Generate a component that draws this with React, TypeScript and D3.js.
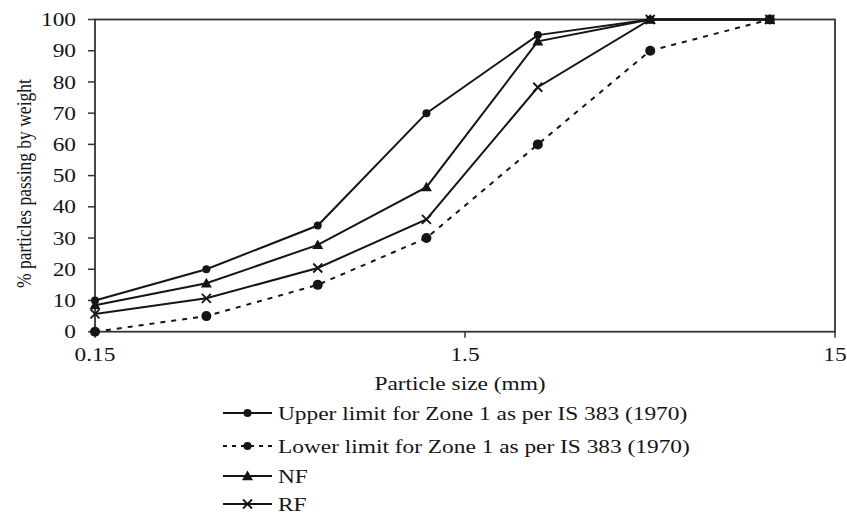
import React from "react";
import * as d3 from "d3";

// Sieve sizes (mm) and cumulative % passing for each gradation curve
const sieveSizes = [0.15, 0.3, 0.6, 1.18, 2.36, 4.75, 10];
const upperLimit = [10, 20, 34, 70, 95, 100, 100];
const lowerLimit = [0, 5, 15, 30, 60, 90, 100];
const nfPassing = [8.5, 15.5, 27.8, 46.3, 93, 100, 100];
const rfPassing = [5.7, 10.7, 20.4, 36, 78.3, 100, 100];

const xTickValues = [0.15, 1.5, 15];
const xTickLabels = ["0.15", "1.5", "15"];
const yTickValues = [0, 10, 20, 30, 40, 50, 60, 70, 80, 90, 100];

const seriesNames = [
  "Upper limit for Zone 1 as per IS 383 (1970)",
  "Lower limit for Zone 1 as per IS 383 (1970)",
  "NF",
  "RF",
];

type Marker = "circle" | "bigcircle" | "triangle" | "cross";

const W = 847;
const H = 516;
const M = { left: 95, right: 835, top: 19.5, bottom: 331.7 };
const INK = "#151515";
const FONT = "'Liberation Serif', 'Times New Roman', serif";
const FS = 19;
const SX = 1.23; // horizontal text stretch

function Label({
  x,
  y,
  anchor = "start",
  children,
}: {
  x: number;
  y: number;
  anchor?: "start" | "middle" | "end";
  children: React.ReactNode;
}) {
  return (
    <text
      transform={`translate(${x},${y}) scale(${SX},1)`}
      dy="0.35em"
      textAnchor={anchor}
      fontFamily={FONT}
      fontSize={FS}
      fill={INK}
    >
      {children}
    </text>
  );
}

function MarkerShape({ type, x, y }: { type: Marker; x: number; y: number }) {
  if (type === "circle") return <circle cx={x} cy={y} r={4} fill={INK} />;
  if (type === "bigcircle") return <circle cx={x} cy={y} r={5} fill={INK} />;
  if (type === "triangle") {
    const s = 5.5;
    return (
      <path
        d={`M${x},${y - s} L${x + s},${y + s * 0.75} L${x - s},${y + s * 0.75} Z`}
        fill={INK}
      />
    );
  }
  const s = 4.5;
  return (
    <path
      d={`M${x - s},${y - s} L${x + s},${y + s} M${x - s},${y + s} L${x + s},${y - s}`}
      stroke={INK}
      strokeWidth={1.8}
    />
  );
}

export default function App() {
  const x = d3.scaleLog().domain([0.15, 15]).range([M.left, M.right]);
  const y = d3.scaleLinear().domain([0, 100]).range([M.bottom, M.top]);

  const series: { name: string; values: number[]; marker: Marker; dash?: string }[] = [
    { name: seriesNames[0], values: upperLimit, marker: "circle" },
    { name: seriesNames[1], values: lowerLimit, marker: "bigcircle", dash: "5,6" },
    { name: seriesNames[2], values: nfPassing, marker: "triangle" },
    { name: seriesNames[3], values: rfPassing, marker: "cross" },
  ];

  const line = d3
    .line<[number, number]>()
    .x((d) => x(d[0]))
    .y((d) => y(d[1]));

  const legendRows = [413, 446, 476, 504];

  return (
    <svg width={W} height={H} style={{ position: "absolute", left: 0, top: 0, background: "#fff" }}>
      {/* plot frame */}
      <rect
        x={M.left}
        y={M.top}
        width={M.right - M.left}
        height={M.bottom - M.top}
        fill="none"
        stroke="#333"
        strokeWidth={1.8}
      />

      {/* y axis ticks and labels */}
      {yTickValues.map((v) => (
        <g key={`y${v}`}>
          <line x1={M.left - 7} x2={M.left} y1={y(v)} y2={y(v)} stroke="#333" strokeWidth={1.5} />
          <Label x={M.left - 19} y={y(v)} anchor="end">
            {v}
          </Label>
        </g>
      ))}

      {/* x axis ticks and labels */}
      {xTickValues.map((v, i) => (
        <g key={`x${v}`}>
          <line x1={x(v)} x2={x(v)} y1={M.bottom} y2={M.bottom + 6} stroke="#333" strokeWidth={1.5} />
          <Label x={x(v)} y={M.bottom + 23} anchor="middle">
            {xTickLabels[i]}
          </Label>
        </g>
      ))}

      <Label x={460} y={383} anchor="middle">
        Particle size (mm)
      </Label>
      <text
        transform={`translate(31,${(M.top + M.bottom) / 2 + 8}) rotate(-90) scale(1,${SX})`}
        textAnchor="middle"
        fontFamily={FONT}
        fontSize={17.5}
        fill={INK}
      >
        % particles passing by weight
      </text>

      {/* gradation curves */}
      {series.map((s) => {
        const pts = sieveSizes.map((d, i) => [d, s.values[i]] as [number, number]);
        return (
          <g key={s.name}>
            <path
              d={line(pts) ?? ""}
              fill="none"
              stroke={INK}
              strokeWidth={2}
              strokeDasharray={s.dash}
            />
            {pts.map((p, i) => (
              <MarkerShape key={i} type={s.marker} x={x(p[0])} y={y(p[1])} />
            ))}
          </g>
        );
      })}

      {/* legend */}
      {series.map((s, i) => {
        const ly = legendRows[i];
        return (
          <g key={`lg${i}`}>
            <line
              x1={223}
              x2={272}
              y1={ly}
              y2={ly}
              stroke={INK}
              strokeWidth={1.8}
              strokeDasharray={s.dash ? "4,5" : undefined}
            />
            <MarkerShape type={s.marker === "bigcircle" ? "circle" : s.marker} x={247.5} y={ly} />
            <Label x={278} y={ly}>
              {s.name}
            </Label>
          </g>
        );
      })}
    </svg>
  );
}
